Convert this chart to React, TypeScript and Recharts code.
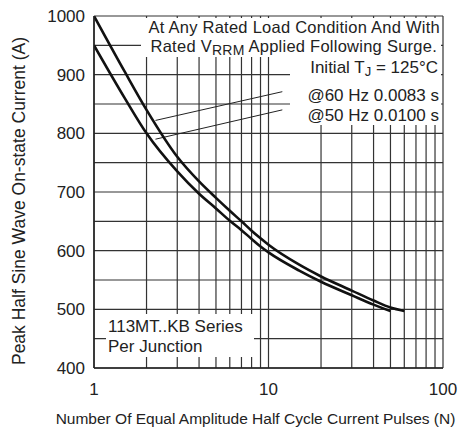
import React from "react";
import { LineChart, Line, XAxis, YAxis, CartesianGrid, ReferenceLine } from "recharts";

// grid ticks (log decades on x, 50 A steps on y) and the ones that get a label
const xTicks = [1, 2, 3, 4, 5, 6, 7, 8, 9, 10, 20, 30, 40, 50, 60, 70, 80, 90, 100];
const xLabels = [1, 10, 100];
const yTicks = [400, 450, 500, 550, 600, 650, 700, 750, 800, 850, 900, 950, 1000];
const yLabels = [400, 500, 600, 700, 800, 900, 1000];

// @ 60 Hz 0.0083 s
const pulses60 = [1, 1.5, 2, 3, 4, 5, 6, 7, 8, 9, 10, 15, 20, 30, 40, 50, 60];
const current60 = [1000, 905, 840, 760, 718, 690, 668, 650, 634, 621, 610, 576, 556, 532, 515, 503, 497];

// @ 50 Hz 0.0100 s
const pulses50 = [1, 1.5, 2, 3, 4, 5, 6, 7, 8, 9, 10, 15, 20, 30, 40, 50];
const current50 = [950, 860, 800, 735, 697, 672, 651, 635, 620, 607, 597, 566, 547, 524, 508, 497];

const data60 = pulses60.map((n, i) => ({ n, amps: current60[i] }));
const data50 = pulses50.map((n, i) => ({ n, amps: current50[i] }));

const FONT = '"Liberation Sans", Arial, Helvetica, sans-serif';
const INK = "#222";

const box = (left: number, top: number, width: number, height: number): React.CSSProperties => ({
  position: "absolute", left, top, width, height, background: "#fff",
});

const note: React.CSSProperties = {
  position: "absolute", fontSize: 17, lineHeight: "15px", color: INK, whiteSpace: "nowrap",
};

// the two top lines sit tight, a bit smaller with a little tracking
const tight: React.CSSProperties = { fontSize: 16.5, letterSpacing: 0.25 };

const sub = (size: number): React.CSSProperties => ({
  fontSize: size, lineHeight: `${size}px`, position: "relative", top: 3,
});

export default function App() {
  return (
    <div style={{ position: "absolute", left: 0, top: 0, width: 463, height: 427, fontFamily: FONT, background: "#fff" }}>
      <LineChart width={463} height={427} data={data60} margin={{ top: 16, right: 20, bottom: 0, left: 0 }}>
        <CartesianGrid stroke="#333" strokeWidth={1.2} />
        <XAxis
          dataKey="n"
          type="number"
          scale="log"
          domain={[1, 100]}
          ticks={xTicks}
          interval={0}
          tickFormatter={(v) => (xLabels.includes(v) ? String(v) : "")}
          tickLine={false}
          tickMargin={9}
          height={59}
          stroke={INK}
          strokeWidth={1.5}
          tick={{ fontSize: 17, fill: INK }}
          allowDataOverflow
          label={{
            value: "Number Of Equal Amplitude Half Cycle Current Pulses (N)",
            position: "insideBottom",
            offset: 3,
            dx: -13,
            fontSize: 15.5,
            fill: INK,
          }}
        />
        <YAxis
          type="number"
          domain={[400, 1000]}
          ticks={yTicks}
          interval={0}
          tickFormatter={(v) => (yLabels.includes(v) ? String(v) : "")}
          tickLine={false}
          tickMargin={3}
          width={94}
          stroke={INK}
          strokeWidth={1.5}
          tick={{ fontSize: 17, fill: INK }}
          allowDataOverflow
          label={{
            value: "Peak Half Sine Wave On-state Current (A)",
            angle: -90,
            position: "insideLeft",
            offset: 19,
            dy: 9,
            fontSize: 17.5,
            fill: INK,
            style: { textAnchor: "middle" },
          }}
        />
        <ReferenceLine segment={[{ x: 2.25, y: 822 }, { x: 12, y: 871 }]} stroke={INK} strokeWidth={1} />
        <ReferenceLine segment={[{ x: 2.25, y: 790 }, { x: 12, y: 840 }]} stroke={INK} strokeWidth={1} />
        <Line data={data60} dataKey="amps" type="monotone" stroke="#111" strokeWidth={2.6} dot={false} isAnimationActive={false} />
        <Line data={data50} dataKey="amps" type="monotone" stroke="#111" strokeWidth={2.6} dot={false} isAnimationActive={false} />
      </LineChart>

      {/* white patches behind the notes, the grid stops where the text is */}
      <div style={box(141, 18, 300, 39)} />
      <div style={box(290, 57, 151, 68)} />
      <div style={box(106, 314, 148, 43)} />

      <div style={{ ...note, ...tight, right: 23, top: 20 }}>At Any Rated Load Condition And With</div>
      <div style={{ ...note, ...tight, right: 26, top: 38.5 }}>
        Rated V<span style={sub(14)}>RRM</span> Applied Following Surge.
      </div>
      <div style={{ ...note, right: 25, top: 60 }}>
        Initial T<span style={sub(13)}>J</span> = 125°C
      </div>
      <div style={{ ...note, right: 24, top: 88 }}>@60 Hz 0.0083 s</div>
      <div style={{ ...note, right: 24, top: 108 }}>@50 Hz 0.0100 s</div>

      <div style={{ ...note, left: 108, top: 319 }}>113MT..KB Series</div>
      <div style={{ ...note, left: 108, top: 339 }}>Per Junction</div>
    </div>
  );
}
